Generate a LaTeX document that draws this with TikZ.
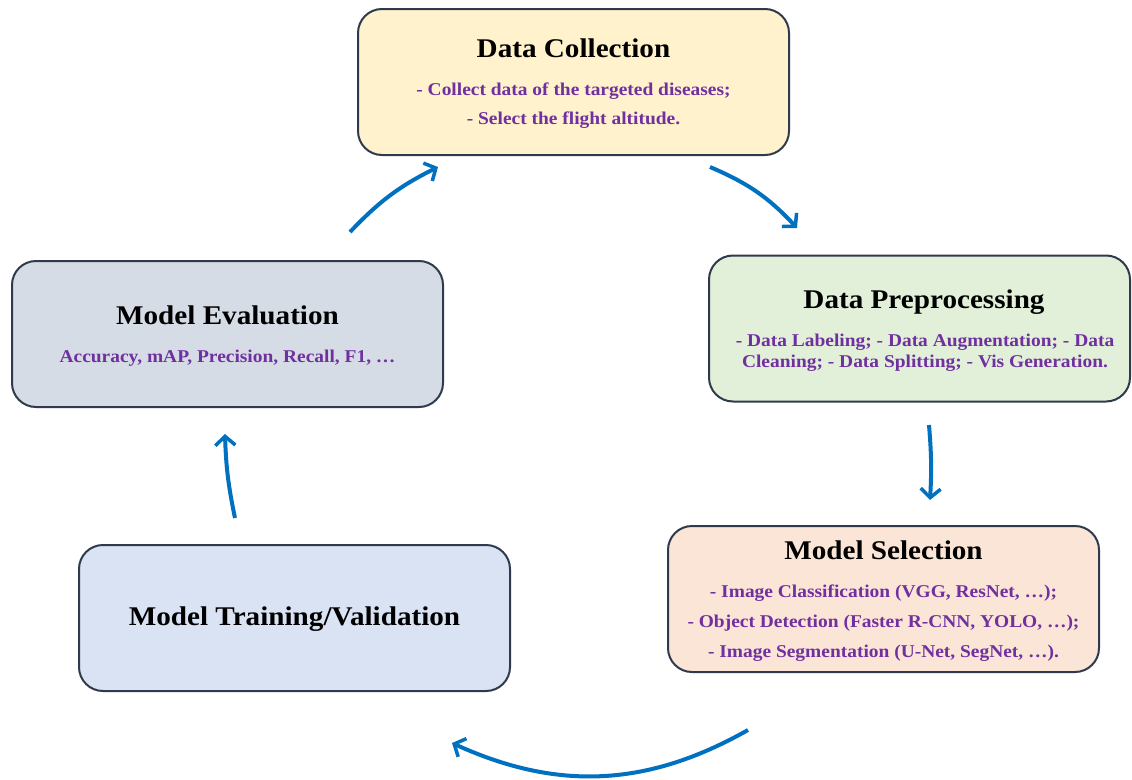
\documentclass[tikz,border=0pt]{standalone}
\usepackage{fontspec}
\setmainfont{Liberation Serif}[FakeStretch=1.08]
\usetikzlibrary{arrows.meta}
\definecolor{bordercol}{HTML}{2F3B4C}
\definecolor{dcfill}{HTML}{FFF2CC}
\definecolor{dpfill}{HTML}{E2F0D9}
\definecolor{msfill}{HTML}{FBE5D6}
\definecolor{mtfill}{HTML}{DAE3F3}
\definecolor{mefill}{HTML}{D6DCE5}
\definecolor{subcol}{HTML}{7030A0}
\definecolor{arrowcol}{HTML}{0070C0}
\tikzset{
  stagebox/.style={draw=bordercol, line width=2pt, rounded corners=24pt,
    minimum width=431pt, minimum height=146pt, inner sep=0pt},
  titletext/.style={anchor=base, font=\fontsize{27}{30}\selectfont\bfseries, text=black},
  subtext/.style={anchor=base, font=\fontsize{18}{20}\selectfont\bfseries, text=subcol},
  cyclearrow/.style={draw=arrowcol, line width=4pt,
    -{Straight Barb[length=9pt,width=20pt,line width=3.5pt]}}
}
\begin{document}
\begin{tikzpicture}[x=1pt,y=1pt]
\useasboundingbox (0,0) rectangle (1132,-779);

% boxes
\node[stagebox, fill=dcfill] (dc) at (573.5,-82) {};
\node[stagebox, fill=dpfill, minimum width=421pt] (dp) at (919.5,-328.5) {};
\node[stagebox, fill=msfill] (ms) at (883.5,-599) {};
\node[stagebox, fill=mtfill] (mt) at (294.5,-618) {};
\node[stagebox, fill=mefill] (me) at (227.5,-334) {};

% Data Collection
\node[titletext] (dct) at (573.5,-57) {Data Collection};
\node[subtext] (dcs1) at (573.5,-95) {- Collect data of the targeted diseases;};
\node[subtext] (dcs2) at (573.5,-124) {- Select the flight altitude.};

% Data Preprocessing
\node[titletext] (dpt) at (924,-308) {Data Preprocessing};
\node[subtext] (dps1) at (925,-346) {- Data Labeling; - Data Augmentation; - Data};
\node[subtext] (dps2) at (925,-367) {Cleaning; - Data Splitting; - Vis Generation.};

% Model Selection
\node[titletext] (mst) at (883.5,-559) {Model Selection};
\node[subtext] (mss1) at (883.5,-597) {- Image Classification (VGG, ResNet, \dots);};
\node[subtext] (mss2) at (883.5,-627) {- Object Detection (Faster R-CNN, YOLO, \dots);};
\node[subtext] (mss3) at (883.5,-657) {- Image Segmentation (U-Net, SegNet, \dots).};

% Model Training/Validation
\node[titletext] (mtt) at (294.5,-625) {Model Training/Validation};

% Model Evaluation
\node[titletext] (met) at (227.5,-324) {Model Evaluation};
\node[subtext] (mes) at (227.5,-362) {Accuracy, mAP, Precision, Recall, F1, \dots};

% arrow end points
\coordinate (a1s) at (350,-232);
\coordinate (a1e) at (438,-167);
\coordinate (a2s) at (710,-167);
\coordinate (a2e) at (797,-228);
\coordinate (a3s) at (929,-425);
\coordinate (a3e) at (930,-500);
\coordinate (a4s) at (748,-730);
\coordinate (a4e) at (452,-743);
\coordinate (a5s) at (235,-518);
\coordinate (a5e) at (225,-434);

\draw[cyclearrow] (a1s) to[bend left=10] (a1e);
\draw[cyclearrow] (a2s) to[bend left=12] (a2e);
\draw[cyclearrow] (a3s) to[bend left=4] (a3e);
\draw[cyclearrow] (a4s) to[bend left=27] (a4e);
\draw[cyclearrow] (a5s) to[bend left=5] (a5e);
\end{tikzpicture}
\end{document}
